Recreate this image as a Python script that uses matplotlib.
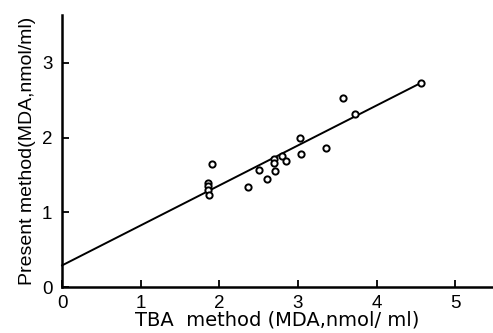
import matplotlib
matplotlib.use("Agg")
import matplotlib.pyplot as plt
import numpy as np

plt.rcParams['font.family'] = ['Liberation Sans', 'DejaVu Sans']

tba = [1.91, 1.86, 1.86, 1.86, 1.87, 2.36, 2.50, 2.60, 2.69, 2.69, 2.71,
       2.80, 2.85, 3.02, 3.04, 3.36, 3.57, 3.72, 4.56]
present = [1.65, 1.39, 1.35, 1.30, 1.23, 1.34, 1.56, 1.45, 1.71, 1.66, 1.55,
           1.76, 1.69, 2.00, 1.78, 1.86, 2.53, 2.31, 2.73]
fit_intercept = 0.29
fit_slope = 0.535
fit_range = [0.0, 4.58]

xticks = [0, 1, 2, 3, 4, 5]
yticks = [0, 1, 2, 3]

fig = plt.figure(figsize=(4.93, 3.33), dpi=100)
ax = fig.add_axes([0.126, 0.138, 0.874, 0.817])

xf = np.array(fit_range)
ax.plot(xf, fit_intercept + fit_slope * xf, color='black', lw=1.4, clip_on=False)
ax.plot(tba, present, linestyle='none', marker='o', markersize=4.5,
        markerfacecolor='white', markeredgecolor='black', markeredgewidth=1.4,
        clip_on=False)

ax.set_xlim(0, 5.48)
ax.set_ylim(0, 3.64)
ax.set_xticks(xticks)
ax.set_yticks(yticks)
ax.set_xticklabels([str(t) for t in xticks])
ax.set_yticklabels([str(t) for t in yticks])

for s in ['top', 'right']:
    ax.spines[s].set_visible(False)
for s in ['left', 'bottom']:
    ax.spines[s].set_linewidth(1.8)

ax.tick_params(axis='both', direction='in', length=5, width=1.3,
               labelsize=13.5)
ax.tick_params(axis='x', pad=6)
ax.tick_params(axis='y', pad=7)
ax.set_xlabel('TBA  method (MDA,nmol/ ml)', fontsize=14, labelpad=-1,
              family=['DejaVu Sans'])
ax.set_ylabel('Present method(MDA,nmol/ml)', fontsize=14, labelpad=4)

fig.savefig('out.png', dpi=100)
